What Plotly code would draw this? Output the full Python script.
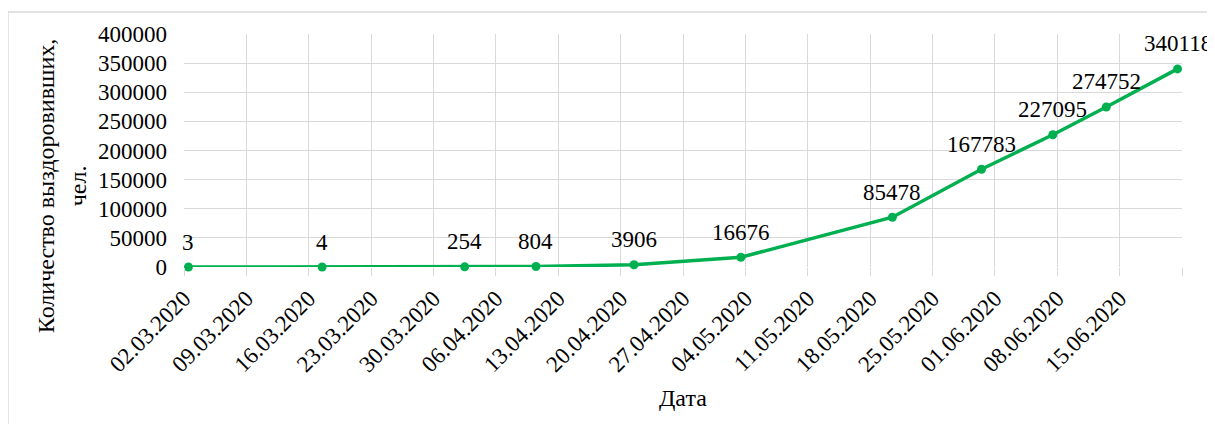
import pandas as pd
import plotly.graph_objects as go

# данные: дата -> количество выздоровивших
dates = ["02.03.2020", "17.03.2020", "02.04.2020", "10.04.2020", "21.04.2020",
         "03.05.2020", "20.05.2020", "30.05.2020", "07.06.2020", "13.06.2020",
         "21.06.2020"]
recovered = [3, 4, 254, 804, 3906, 16676, 85478, 167783, 227095, 274752, 340118]

tick_labels = ["02.03.2020", "09.03.2020", "16.03.2020", "23.03.2020", "30.03.2020",
               "06.04.2020", "13.04.2020", "20.04.2020", "27.04.2020", "04.05.2020",
               "11.05.2020", "18.05.2020", "25.05.2020", "01.06.2020", "08.06.2020",
               "15.06.2020"]
y_ticks = [0, 50000, 100000, 150000, 200000, 250000, 300000, 350000, 400000]

x = pd.to_datetime(dates, format="%d.%m.%Y")
half_day = pd.Timedelta(hours=12)
tick_pos = pd.to_datetime(tick_labels, format="%d.%m.%Y") - half_day  # как в Excel: точка в середине дня
x_end = pd.Timestamp("2020-06-22") - half_day

FONT = "Liberation Serif"
GREEN = "#00B050"
GRID = "#d9d9d9"

fig = go.Figure()
fig.add_trace(go.Scatter(
    x=x, y=recovered, mode="lines+markers",
    line=dict(color=GREEN, width=3.5),
    marker=dict(color=GREEN, size=9),
    cliponaxis=False, showlegend=False))

# подписи данных
for xi, v in zip(x, recovered):
    fig.add_annotation(x=xi, y=v, text=str(v), showarrow=False, yshift=25,
                       font=dict(family=FONT, size=23, color="black"))

fig.update_xaxes(
    range=[tick_pos[0], x_end], automargin=False,
    tickmode="array", tickvals=list(tick_pos) + [x_end], ticktext=tick_labels + [""],
    tickangle=-45, ticks="outside", ticklen=8, tickcolor=GRID, tickwidth=1,
    showgrid=True, gridcolor=GRID, gridwidth=1,
    showline=False, zeroline=False,
    tickfont=dict(family=FONT, size=23, color="black"))
fig.update_yaxes(
    range=[0, 400000], tickvals=y_ticks, ticktext=[str(v) for v in y_ticks],
    automargin=False,
    showgrid=True, gridcolor=GRID, gridwidth=1, zeroline=False, showline=False,
    ticks="", ticklabelstandoff=16,
    tickfont=dict(family=FONT, size=23, color="black"))

fig.add_annotation(text="Количество выздоровивших,<br>чел.", textangle=-90,
                   xref="paper", yref="paper", x=-0.122, y=0.348,
                   xanchor="center", yanchor="middle", showarrow=False,
                   font=dict(family=FONT, size=24, color="black"))
fig.add_annotation(text="Дата", xref="paper", yref="paper", x=0.5, y=-0.561,
                   xanchor="center", yanchor="middle", showarrow=False,
                   font=dict(family=FONT, size=24, color="black"))
# рамка области диаграммы
fig.add_shape(type="rect", xref="paper", yref="paper",
              x0=-0.1764, x1=1.031, y0=-0.75, y1=1.094,
              line=dict(color="#d9d9d9", width=1.5), layer="below")

# страница имеет отступ body 8px, поэтому фигура чуть меньше окна
fig.update_layout(
    template="none",
    width=1207, height=416,
    margin=dict(l=176, r=33, t=26, b=157),
    plot_bgcolor="white", paper_bgcolor="white",
    font=dict(family=FONT, size=23, color="black"))

fig.write_html("out.html")
